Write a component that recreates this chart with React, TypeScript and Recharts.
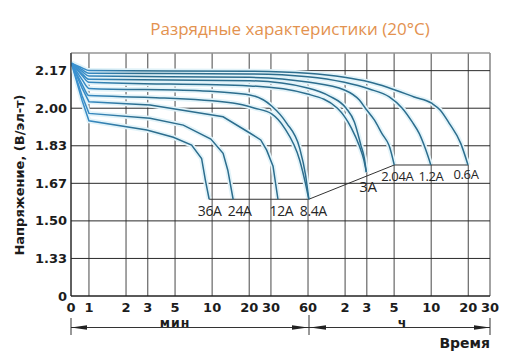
import { LineChart, Line, XAxis, YAxis, CartesianGrid, ReferenceLine } from 'recharts';

// x axis is time in minutes (log), "0" sits at the left edge
const xTicks = [0.715, 1, 2, 3, 5, 10, 20, 30, 60, 120, 180, 300, 600, 1200, 1800];
const xTickLabels = ['0', '1', '2', '3', '5', '10', '20', '30', '60', '2', '3', '5', '10', '20', '30'];

const yTicks = [7 / 6, 8 / 6, 9 / 6, 10 / 6, 11 / 6, 2, 13 / 6];
const yTickLabels = ['0', '1.33', '1.50', '1.67', '1.83', '2.00', '2.17'];

// [minutes, volts per cell]
const curve0_6A = [[0.72, 2.2], [0.88, 2.179], [1, 2.167], [20.2, 2.164], [59.5, 2.155], [118.5, 2.137], [188.7, 2.116], [264, 2.093], [436.5, 2.05], [610, 2.021], [708.6, 1.992], [837.7, 1.934], [1041.8, 1.844], [1193.6, 1.748]];
const curve1_2A = [[0.72, 2.2], [0.88, 2.171], [1, 2.155], [20.2, 2.152], [59.5, 2.14], [118.5, 2.115], [188.7, 2.085], [274, 2.05], [349, 2.0], [420.5, 1.939], [479, 1.888], [535.7, 1.823], [595.7, 1.748]];
const curve2_04A = [[0.72, 2.2], [0.88, 2.163], [1, 2.143], [20.2, 2.137], [59.5, 2.116], [118.5, 2.081], [156.7, 2.036], [175.2, 2.0], [207.2, 1.948], [240.4, 1.885], [274, 1.832], [300.8, 1.748]];
const curve3A = [[0.72, 2.2], [0.88, 2.153], [1, 2.128], [20.2, 2.122], [59.5, 2.09], [89.6, 2.054], [122.3, 2.0], [142.7, 1.939], [161.7, 1.833], [171.9, 1.779], [178.5, 1.716]];
const curveB = [[0.72, 2.2], [0.88, 2.145], [1, 2.115], [20.2, 2.099], [59.5, 2.063], [104, 2.0], [135, 1.912], [156.7, 1.832], [170.4, 1.77], [178.5, 1.716]];
const curveC = [[0.72, 2.2], [0.88, 2.127], [1, 2.088], [7.95, 2.077], [20.2, 2.059], [30.4, 2.01], [40.2, 1.934], [51.3, 1.823], [57.3, 1.703], [60.9, 1.596]];
const curve8_4A = [[0.72, 2.2], [0.88, 2.106], [1, 2.056], [3.13, 2.048], [14.7, 2.023], [22.2, 2.0], [30.4, 1.975], [38.7, 1.912], [51.3, 1.77], [58, 1.651], [60.9, 1.596]];
const curve12A = [[0.72, 2.2], [0.88, 2.089], [1, 2.029], [3.13, 2.014], [12.27, 1.962], [20.2, 1.89], [24.8, 1.859], [27.7, 1.814], [31.2, 1.743], [34.2, 1.596]];
const curve24A = [[0.72, 2.2], [0.88, 2.055], [1, 1.977], [3.13, 1.955], [5.83, 1.925], [9.76, 1.863], [12.27, 1.8], [13.4, 1.725], [14.8, 1.596]];
const curve36A = [[0.72, 2.2], [0.88, 2.034], [1, 1.944], [2.95, 1.903], [4.84, 1.871], [6.81, 1.836], [8.21, 1.777], [8.81, 1.681], [9.46, 1.596]];

// end-of-discharge line joining the curve ends
const cutoffLine = [[9.46, 1.596], [60.9, 1.596], [300.8, 1.748], [1193.6, 1.748]];

const toRows = (pts: number[][]) => pts.map(([t, v]) => ({ t, v }));

type Series = {
  id: string;
  pts: number[][];
  label?: string;
  dx?: number;
  dy?: number;
  size?: number;
  smooth?: boolean;
};

const SERIES: Series[] = [
  { id: 'a06', pts: curve0_6A, label: '0.6A', dx: -2, dy: 14, size: 13, smooth: true },
  { id: 'a12', pts: curve1_2A, label: '1.2A', dx: 0, dy: 16, size: 13, smooth: true },
  { id: 'a204', pts: curve2_04A, label: '2.04A', dx: 3, dy: 16.5, size: 13, smooth: true },
  { id: 'a3', pts: curve3A, label: '3A', dx: 1.5, dy: 19.5, size: 15, smooth: true },
  { id: 'b', pts: curveB, smooth: true },
  { id: 'c', pts: curveC, smooth: true },
  { id: 'a84', pts: curve8_4A, label: '8.4A', dx: 4.5, dy: 16.5, size: 14, smooth: true },
  { id: 'a120', pts: curve12A, label: '12A', dx: 3.5, dy: 16.5, size: 14 },
  { id: 'a240', pts: curve24A, label: '24A', dx: 6.5, dy: 16.5, size: 14 },
  { id: 'a360', pts: curve36A, label: '36A', dx: 0.5, dy: 16.5, size: 14 },
];

const tickFont = { fontFamily: 'DejaVu Sans', fontWeight: 700, fontSize: 13, fill: '#1c1c1c' };

function endLabel(s: Series) {
  const last = s.pts.length - 1;
  return (p: any) => {
    if (p.index !== last || !s.label) return <g />;
    return (
      <text
        x={p.x + (s.dx ?? 0)}
        y={p.y + (s.dy ?? 0)}
        textAnchor="middle"
        fontFamily="Open Sans"
        fontSize={s.size}
        letterSpacing={-0.4}
        fill="#262626"
      >
        {s.label}
      </text>
    );
  };
}

export default function App() {
  return (
    <div style={{ position: 'absolute', left: 0, top: 0, width: 516, height: 363, background: '#fff' }}>
      <LineChart width={516} height={363} margin={{ top: 53, right: 26, bottom: 0, left: 0 }}>
        <defs>
          <linearGradient id="lineGrad" gradientUnits="userSpaceOnUse" x1="71" y1="0" x2="140" y2="0">
            <stop offset="0" stopColor="#3a93d4" />
            <stop offset="1" stopColor="#2c6d8d" />
          </linearGradient>
        </defs>
        <CartesianGrid horizontal={false} stroke="#666" strokeWidth={1.2} />
        <CartesianGrid vertical={false} stroke="#2a2a2a" />
        <ReferenceLine y={2.245} stroke="#c9c9c9" />
        <XAxis
          type="number"
          dataKey="t"
          scale="log"
          domain={[0.715, 1800]}
          ticks={xTicks}
          interval={0}
          allowDataOverflow
          height={67}
          tickLine={false}
          tickSize={5}
          tickMargin={2}
          axisLine={{ stroke: '#1e1e1e' }}
          tick={tickFont}
          tickFormatter={(_v: number, i: number) => xTickLabels[i]}
        />
        <YAxis
          type="number"
          dataKey="v"
          domain={[7 / 6, 2.245]}
          ticks={yTicks}
          interval={0}
          allowDataOverflow
          width={71}
          tickLine={false}
          tickSize={2}
          tickMargin={2}
          axisLine={{ stroke: '#1e1e1e' }}
          tick={tickFont}
          tickFormatter={(_v: number, i: number) => yTickLabels[i]}
        />
        {SERIES.map((s) => (
          <Line
            key={s.id + '-halo'}
            data={toRows(s.pts)}
            dataKey="v"
            type={s.smooth ? 'monotone' : 'linear'}
            stroke="#e2f3f9"
            strokeWidth={5}
            dot={false}
            activeDot={false}
            isAnimationActive={false}
          />
        ))}
        <Line
          data={toRows(cutoffLine)}
          dataKey="v"
          type="linear"
          stroke="#333"
          strokeWidth={1}
          dot={false}
          activeDot={false}
          isAnimationActive={false}
        />
        {SERIES.map((s) => (
          <Line
            key={s.id}
            data={toRows(s.pts)}
            dataKey="v"
            type={s.smooth ? 'monotone' : 'linear'}
            stroke="url(#lineGrad)"
            strokeWidth={1.5}
            dot={false}
            activeDot={false}
            isAnimationActive={false}
            label={endLabel(s)}
          />
        ))}
      </LineChart>

      <svg width={516} height={363} style={{ position: 'absolute', left: 0, top: 0, pointerEvents: 'none' }}>
        <text x={290} y={35} textAnchor="middle" fontFamily="Open Sans" fontSize={17} fill="#e3924f">
          Разрядные характеристики (20°C)
        </text>
        <text
          transform="rotate(-90)"
          x={-175}
          y={24}
          textAnchor="middle"
          fontFamily="DejaVu Sans"
          fontWeight={700}
          fontSize={13}
          fill="#1c1c1c"
        >
          Напряжение, (В/эл-т)
        </text>

        <g stroke="#333" strokeWidth={1}>
          <line x1={71} y1={327.5} x2={490} y2={327.5} />
          <line x1={71} y1={318} x2={71} y2={335} />
          <line x1={309} y1={315} x2={309} y2={335} />
          <line x1={490} y1={318} x2={490} y2={335} />
        </g>
        <g fill="#222">
          <polygon points="71,327.5 87,325.3 87,329.7" />
          <polygon points="308,327.5 292,325.3 292,329.7" />
          <polygon points="310,327.5 326,325.3 326,329.7" />
          <polygon points="490,327.5 474,325.3 474,329.7" />
        </g>

        <text x={175} y={326.5} textAnchor="middle" fontFamily="DejaVu Sans" fontWeight={700} fontSize={12.5} letterSpacing={1} fill="#1c1c1c">
          мин
        </text>
        <text x={402} y={326.5} textAnchor="middle" fontFamily="DejaVu Sans" fontWeight={700} fontSize={12.5} fill="#1c1c1c">
          ч
        </text>
        <text x={490} y={348} textAnchor="end" fontFamily="DejaVu Sans" fontWeight={700} fontSize={14} fill="#1c1c1c">
          Время
        </text>
      </svg>
    </div>
  );
}
